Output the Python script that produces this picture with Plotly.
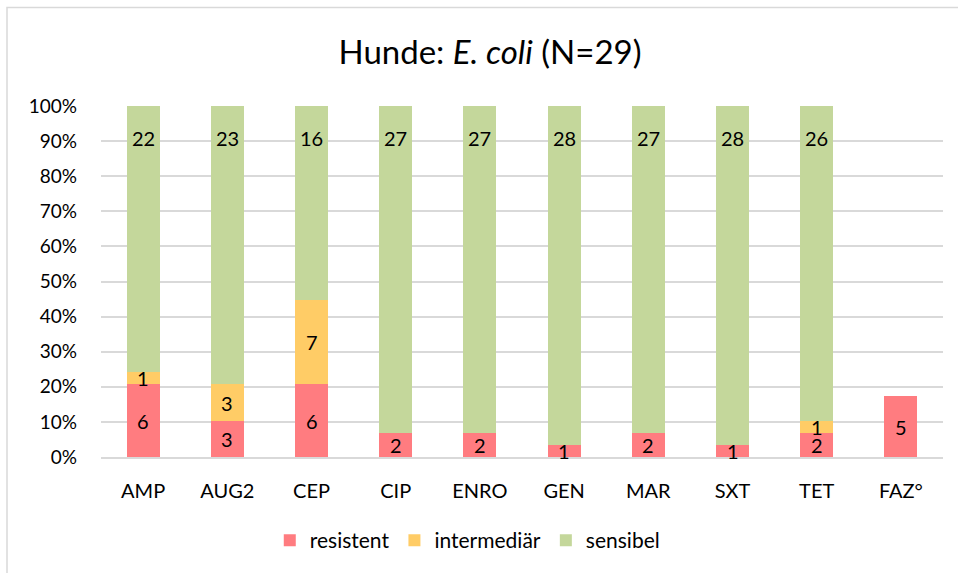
import plotly.graph_objects as go

categories = ["AMP", "AUG2", "CEP", "CIP", "ENRO", "GEN", "MAR", "SXT", "TET", "FAZ°"]
resistent = [6, 3, 6, 2, 2, 1, 2, 1, 2, 5]
intermediaer = [1, 3, 7, 0, 0, 0, 0, 0, 1, 0]
sensibel = [22, 23, 16, 27, 27, 28, 27, 28, 26, 0]
N = 29

series = [
    ("resistent", resistent, "#FF7C80"),
    ("intermediär", intermediaer, "#FFCC66"),
    ("sensibel", sensibel, "#C4D79B"),
]

FONT = "Lato, Open Sans, sans-serif"
fig = go.Figure()
base = [0.0] * len(categories)
annotations = []
for name, vals, color in series:
    pct = [v / N for v in vals]
    fig.add_trace(go.Bar(
        x=categories, y=pct, name=name, marker=dict(color=color, line=dict(width=0)),
        width=0.39, hoverinfo="skip",
    ))
    for i, (v, p) in enumerate(zip(vals, pct)):
        if v > 0:
            if name == "sensibel":
                annotations.append(dict(
                    x=categories[i], y=base[i] + p, yshift=-32, text=str(v), showarrow=False,
                    xref="x", yref="y", font=dict(size=20, color="#000000", family=FONT),
                ))
            else:
                annotations.append(dict(
                    x=categories[i], y=base[i] + p / 2, text=str(v), showarrow=False,
                    xref="x", yref="y", font=dict(size=20, color="#000000", family=FONT),
                ))
        base[i] += p

fig.update_layout(
    width=958, height=573,
    margin=dict(l=101, r=15, t=106, b=114),
    paper_bgcolor="white", plot_bgcolor="white",
    barmode="stack",
    title=dict(text="Hunde: <i>E. coli</i> (N=29)", x=0.5115, xanchor="center",
               y=0.909, yanchor="middle", yref="container",
               font=dict(size=33, color="#000", family=FONT)),
    xaxis=dict(tickfont=dict(size=20, color="#000", family=FONT), showline=True,
               linecolor="#D9D9D9", linewidth=1.5, ticks="", showgrid=False,
               ticklabelstandoff=15),
    yaxis=dict(range=[0, 1], tickformat=".0%", dtick=0.1, showgrid=True,
               gridcolor="#D9D9D9", gridwidth=1.5, zeroline=False,
               tickfont=dict(size=19, color="#000", family=FONT), ticks="",
               ticklabelstandoff=23),
    legend=dict(orientation="h", x=0.435, xanchor="center", y=-0.238, yanchor="middle",
                font=dict(size=21, color="#000", family=FONT), traceorder="normal",
                itemwidth=30),
    annotations=annotations,
    shapes=[dict(type="rect", xref="paper", yref="paper",
                 x0=(7 - 101) / 842, x1=(990 - 101) / 842,
                 y0=-(600 - 459) / 353, y1=(459 - 7) / 353,
                 line=dict(color="#D9D9D9", width=1.5), fillcolor="rgba(0,0,0,0)",
                 layer="below")],
)

fig.write_html("out.html", config={"displayModeBar": False},
               post_script="document.body.style.margin='0';")
